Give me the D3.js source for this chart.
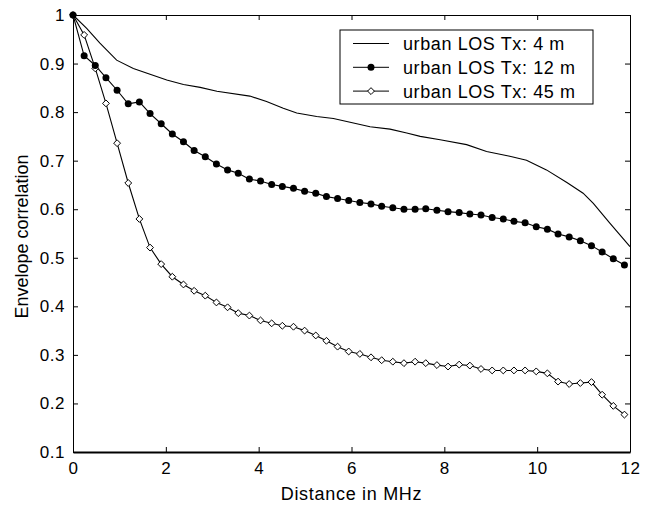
<!DOCTYPE html>
<html>
<head>
<meta charset="utf-8">
<script src="https://cdn.jsdelivr.net/npm/d3@7"></script>
<style>
  body { margin: 0; background: #fff; }
  svg text { font-family: "Liberation Sans", Arial, sans-serif; fill: #000; }
</style>
</head>
<body>
<div id="chart"></div>
<script>
// frequency separation (MHz) of the sampled curves with markers
const freqs = [0, 0.24, 0.48, 0.71, 0.95, 1.19, 1.43, 1.66, 1.90, 2.14, 2.38, 2.61, 2.85,
    3.09, 3.33, 3.56, 3.80, 4.04, 4.28, 4.51, 4.75, 4.99, 5.23, 5.46, 5.70, 5.94, 6.18,
    6.42, 6.65, 6.89, 7.13, 7.37, 7.60, 7.84, 8.08, 8.32, 8.55, 8.79, 9.03, 9.27, 9.50,
    9.74, 9.98, 10.22, 10.45, 10.69, 10.93, 11.17, 11.40, 11.64, 11.88];

const corr12 = [1.0, 0.916, 0.896, 0.871, 0.845, 0.817, 0.821, 0.797, 0.776, 0.755, 0.739,
    0.721, 0.708, 0.693, 0.681, 0.674, 0.662, 0.658, 0.651, 0.647, 0.643, 0.637, 0.633,
    0.626, 0.622, 0.618, 0.614, 0.611, 0.606, 0.603, 0.600, 0.600, 0.601, 0.598, 0.595,
    0.593, 0.590, 0.588, 0.583, 0.580, 0.575, 0.572, 0.564, 0.559, 0.549, 0.543, 0.535,
    0.525, 0.512, 0.498, 0.485];

const corr45 = [1.0, 0.959, 0.89, 0.818, 0.736, 0.654, 0.580, 0.521, 0.487, 0.461, 0.445,
    0.432, 0.422, 0.408, 0.398, 0.386, 0.381, 0.371, 0.365, 0.360, 0.358, 0.350, 0.340,
    0.329, 0.317, 0.307, 0.302, 0.295, 0.289, 0.286, 0.283, 0.286, 0.283, 0.279, 0.276,
    0.280, 0.278, 0.271, 0.268, 0.268, 0.268, 0.268, 0.266, 0.262, 0.245, 0.240, 0.242,
    0.244, 0.218, 0.195, 0.177];

// Tx 4 m curve (drawn as a plain line)
const freqs4 = [0, 0.30, 0.58, 0.94, 1.30, 1.66, 2.02, 2.38, 2.74, 3.10, 3.81, 4.17, 4.53,
    4.82, 5.25, 5.61, 5.97, 6.40, 6.83, 7.19, 7.48, 7.91, 8.48, 8.91, 9.41, 9.77, 10.20,
    10.64, 10.99, 11.21, 11.57, 12.0];
const corr4 = [1.0, 0.972, 0.942, 0.907, 0.890, 0.878, 0.866, 0.857, 0.851, 0.843, 0.833,
    0.822, 0.808, 0.798, 0.791, 0.787, 0.779, 0.770, 0.765, 0.757, 0.750, 0.743, 0.733,
    0.719, 0.709, 0.701, 0.681, 0.655, 0.633, 0.612, 0.571, 0.523];

const xTicks = [0, 2, 4, 6, 8, 10, 12];
const yTicks = [0.1, 0.2, 0.3, 0.4, 0.5, 0.6, 0.7, 0.8, 0.9, 1];
const legendLabels = ["urban LOS Tx: 4 m", "urban LOS Tx: 12 m", "urban LOS Tx: 45 m"];

const W = 650, H = 506;
let margin = {top: 15, right: 20, bottom: 54, left: 73},
    width = 630 - margin.left,
    height = 452 - margin.top;

let svg = d3.select("#chart").append("svg")
    .attr("width", W)
    .attr("height", H);

let g = svg.append("g").attr("transform", "translate(" + margin.left + "," + margin.top + ")");

let xScale = d3.scaleLinear().domain([0, 12]).range([0, width]);
let yScale = d3.scaleLinear().domain([0.1, 1]).range([height, 0]);

//Axes with inward ticks, MATLAB style box
let fmtY = d3.format("~g");
let axB = g.append("g")
    .attr("transform", "translate(0," + height + ")")
    .call(d3.axisBottom(xScale).tickValues(xTicks).tickSizeInner(-5).tickSizeOuter(0).tickPadding(10));
let axL = g.append("g")
    .call(d3.axisLeft(yScale).tickValues(yTicks).tickFormat(fmtY).tickSizeInner(-5).tickSizeOuter(0).tickPadding(8));
let axT = g.append("g")
    .call(d3.axisTop(xScale).tickValues(xTicks).tickSizeInner(-5).tickSizeOuter(0).tickFormat(""));
let axR = g.append("g")
    .attr("transform", "translate(" + width + ",0)")
    .call(d3.axisRight(yScale).tickValues(yTicks).tickSizeInner(-5).tickSizeOuter(0).tickFormat(""));

[axB, axL, axT, axR].forEach(a => {
    a.selectAll("path").attr("stroke", "#000").attr("stroke-width", 1);
    a.selectAll("line").attr("stroke", "#000");
    a.selectAll("text").style("font-size", "17px").style("letter-spacing", "0.5px").attr("fill", "#000");
});
axB.select("path").attr("stroke-width", 2);
axB.selectAll("text").attr("dy", "0.71em");

//Axis labels
svg.append("text")
    .attr("transform", "rotate(-90)")
    .attr("x", -(margin.top + height / 2 + 3))
    .attr("y", 28)
    .attr("text-anchor", "middle")
    .style("font-size", "18px")
    .text("Envelope correlation");

svg.append("text")
    .attr("x", margin.left + width / 2)
    .attr("y", 500)
    .attr("text-anchor", "middle")
    .style("font-size", "18px")
    .style("letter-spacing", "0.7px")
    .text("Distance in MHz");

//Lines
let line = d3.line()
    .x(d => xScale(d[0]))
    .y(d => yScale(d[1]));

let s4 = freqs4.map((f, i) => [f, corr4[i]]);
let s12 = freqs.map((f, i) => [f, corr12[i]]);
let s45 = freqs.map((f, i) => [f, corr45[i]]);

g.append("path").datum(s4).attr("d", line)
    .attr("fill", "none").attr("stroke", "#000").attr("stroke-width", 1.1);
g.append("path").datum(s45).attr("d", line)
    .attr("fill", "none").attr("stroke", "#000").attr("stroke-width", 1.1);
g.append("path").datum(s12).attr("d", line)
    .attr("fill", "none").attr("stroke", "#000").attr("stroke-width", 1.1);

let diamond = d3.symbol().type(d3.symbolDiamond2).size(30);

g.selectAll(".dia").data(s45).enter().append("path")
    .attr("class", "dia")
    .attr("transform", d => "translate(" + xScale(d[0]) + "," + yScale(d[1]) + ")")
    .attr("d", diamond)
    .attr("fill", "#fff").attr("stroke", "#000").attr("stroke-width", 1);

g.selectAll(".dot").data(s12).enter().append("circle")
    .attr("class", "dot")
    .attr("cx", d => xScale(d[0]))
    .attr("cy", d => yScale(d[1]))
    .attr("r", 3.5)
    .attr("fill", "#000");

//Legend
let leg = svg.append("g").attr("transform", "translate(340,30)");
leg.append("rect")
    .attr("width", 253).attr("height", 74)
    .attr("fill", "#fff").attr("stroke", "#000").attr("stroke-width", 1);

legendLabels.forEach((lab, i) => {
    let yy = 13.5 + i * 23.8;
    leg.append("line")
        .attr("x1", 13).attr("x2", 49).attr("y1", yy).attr("y2", yy)
        .attr("stroke", "#000").attr("stroke-width", 1);
    if (i == 1)
        leg.append("circle").attr("cx", 31).attr("cy", yy).attr("r", 3.5).attr("fill", "#000");
    if (i == 2)
        leg.append("path").attr("transform", "translate(31," + yy + ")").attr("d", diamond)
            .attr("fill", "#fff").attr("stroke", "#000");
    leg.append("text")
        .attr("x", 63).attr("y", yy)
        .attr("dy", "0.36em")
        .style("font-size", "18px")
        .style("letter-spacing", "0.6px")
        .text(lab);
});
</script>
</body>
</html>
